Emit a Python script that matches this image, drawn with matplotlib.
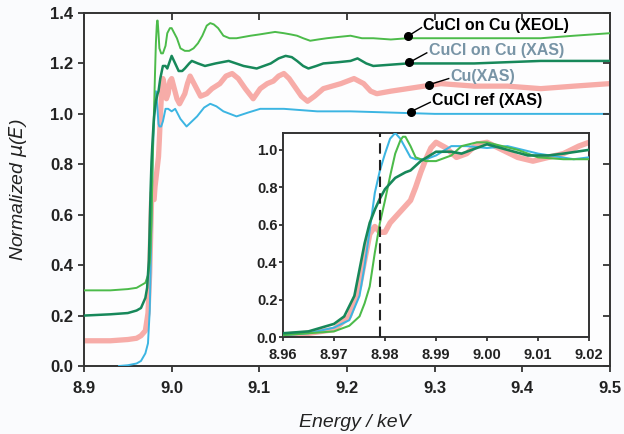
import matplotlib
matplotlib.use("Agg")
from matplotlib import pyplot as plt
import numpy as np

plt.rcParams['font.family'] = ['Liberation Sans', 'DejaVu Sans']

# datos normalizados (sin desplazamiento)
e_xeol = [8.900, 8.930, 8.950, 8.960, 8.965, 8.970, 8.973, 8.975, 8.976, 8.977, 8.978, 8.979,
          8.980, 8.981, 8.982, 8.983, 8.9835, 8.984, 8.985, 8.986, 8.988, 8.990, 8.993, 8.995,
          8.998, 9.000, 9.003, 9.006, 9.010, 9.015, 9.020, 9.025, 9.030, 9.035, 9.040, 9.044,
          9.048, 9.053, 9.059, 9.066, 9.074, 9.082, 9.090, 9.100, 9.109, 9.118, 9.128, 9.136,
          9.143, 9.150, 9.158, 9.167, 9.177, 9.190, 9.204, 9.217, 9.230, 9.250, 9.269, 9.300,
          9.345, 9.380, 9.421, 9.459, 9.500]
mu_xeol = [0.00, 0.00, 0.005, 0.01, 0.02, 0.03, 0.06, 0.11, 0.18, 0.27, 0.45, 0.61,
           0.73, 0.86, 0.98, 1.05, 1.07, 1.07, 1.02, 0.96, 0.94, 0.94, 0.97, 1.02,
           1.04, 1.04, 1.02, 1.00, 0.96, 0.95, 0.95, 0.96, 0.98, 1.01, 1.05, 1.06,
           1.055, 1.04, 1.01, 1.00, 1.00, 1.005, 1.01, 1.015, 1.02, 1.025, 1.02, 1.015,
           1.01, 1.00, 0.99, 0.995, 1.00, 1.005, 1.01, 1.00, 1.00, 0.995, 1.00, 1.00,
           1.00, 1.00, 1.00, 1.01, 1.02]

e_cucl_cu = [8.900, 8.930, 8.950, 8.960, 8.965, 8.970, 8.972, 8.974, 8.975, 8.976, 8.977, 8.978,
             8.979, 8.980, 8.982, 8.984, 8.985, 8.987, 8.990, 8.993, 8.995, 8.998, 9.000, 9.004,
             9.008, 9.012, 9.015, 9.020, 9.023, 9.030, 9.038, 9.050, 9.065, 9.082, 9.097, 9.105,
             9.113, 9.122, 9.130, 9.137, 9.143, 9.150, 9.156, 9.165, 9.173, 9.190, 9.204, 9.212,
             9.222, 9.230, 9.269, 9.345, 9.421, 9.500]
mu_cucl_cu = [0.00, 0.005, 0.01, 0.02, 0.03, 0.07, 0.11, 0.22, 0.36, 0.50, 0.61, 0.68,
              0.74, 0.79, 0.85, 0.88, 0.89, 0.94, 0.99, 0.99, 0.98, 1.01, 1.03, 1.00,
              0.97, 0.97, 0.98, 1.00, 1.01, 1.00, 0.99, 1.00, 1.01, 0.99, 0.98, 0.99,
              1.00, 1.02, 1.03, 1.025, 1.01, 0.99, 0.98, 0.99, 1.00, 1.005, 1.01, 1.02,
              1.00, 0.99, 1.00, 1.00, 1.01, 1.01]

e_cu = [8.900, 8.930, 8.950, 8.960, 8.965, 8.970, 8.973, 8.975, 8.976, 8.977, 8.978, 8.979,
        8.980, 8.981, 8.982, 8.984, 8.985, 8.986, 8.987, 8.988, 8.989, 8.990, 8.992, 8.994,
        8.996, 8.998, 9.000, 9.003, 9.006, 9.009, 9.012, 9.015, 9.018, 9.021, 9.027, 9.033,
        9.040, 9.046, 9.055, 9.062, 9.069, 9.076, 9.084, 9.093, 9.101, 9.109, 9.116, 9.122,
        9.128, 9.134, 9.140, 9.148, 9.155, 9.163, 9.173, 9.183, 9.193, 9.208, 9.219, 9.227,
        9.234, 9.250, 9.269, 9.307, 9.345, 9.383, 9.421, 9.459, 9.500]
mu_cu = [0.00, 0.00, 0.005, 0.01, 0.02, 0.04, 0.11, 0.27, 0.41, 0.55, 0.59, 0.56,
         0.56, 0.61, 0.64, 0.70, 0.73, 0.80, 0.88, 0.95, 1.01, 1.04, 1.01, 0.96,
         0.98, 1.03, 1.04, 1.00, 0.96, 0.94, 0.96, 0.98, 1.02, 1.05, 1.01, 0.97,
         0.98, 1.00, 1.02, 1.05, 1.06, 1.04, 1.00, 0.96, 1.00, 1.02, 1.03, 1.05,
         1.06, 1.04, 1.01, 0.97, 0.95, 0.97, 1.00, 1.01, 1.02, 1.04, 1.02, 0.99,
         0.98, 0.99, 1.00, 1.02, 1.01, 1.01, 1.00, 1.01, 1.02]

e_ref = [8.940, 8.950, 8.960, 8.965, 8.970, 8.973, 8.975, 8.976, 8.977, 8.978, 8.979, 8.980,
         8.981, 8.982, 8.983, 8.984, 8.985, 8.986, 8.988, 8.990, 8.993, 8.996, 9.000, 9.004,
         9.010, 9.017, 9.020, 9.029, 9.037, 9.044, 9.051, 9.059, 9.074, 9.087, 9.101, 9.128,
         9.166, 9.204, 9.300, 9.400, 9.500]
mu_ref = [0.00, 0.003, 0.01, 0.02, 0.05, 0.09, 0.22, 0.38, 0.57, 0.77, 0.89, 0.98,
          1.06, 1.09, 1.06, 1.01, 0.96, 0.95, 0.95, 0.97, 1.02, 1.02, 1.01, 1.02,
          0.98, 0.95, 0.96, 0.99, 1.025, 1.04, 1.03, 1.01, 0.99, 1.005, 1.02, 1.02,
          1.01, 1.01, 1.00, 1.00, 1.00]

etiquetas = ['CuCl on Cu (XEOL)', 'CuCl on Cu (XAS)', 'Cu(XAS)', 'CuCl ref (XAS)']
desplazamientos = [0.3, 0.2, 0.1, 0.0]
colores = ['#4cbb4a', '#17885a', '#f7aca8', '#3cb5e2']
grosores = [1.4, 1.8, 3.8, 1.4]
color_texto = ['black', '#7894a6', '#7894a6', 'black']
# punto sobre la curva y posicion del texto
puntos = [(9.269, 1.307), (9.271, 1.204), (9.293, 1.115), (9.273, 1.009)]
textos = [(9.287, 1.350), (9.293, 1.250), (9.318, 1.148), (9.297, 1.054)]
e_corte = 8.979

energias = [e_xeol, e_cucl_cu, e_cu, e_ref]
mus = [mu_xeol, mu_cucl_cu, mu_cu, mu_ref]
orden = [2, 3, 0, 1]  # rosa abajo, verde oscuro arriba

fig = plt.figure(figsize=(6.24, 4.34), dpi=100, facecolor='#fafbfd')
ax = fig.add_axes([0.1346, 0.1567, 0.843, 0.8133])
ax.set_facecolor('#fdfdfe')

for i in orden:
    ax.plot(energias[i], np.array(mus[i]) + desplazamientos[i], color=colores[i],
            lw=grosores[i], zorder=2 + orden.index(i), solid_joinstyle='round')

for i in range(4):
    ax.plot([puntos[i][0], textos[i][0] - 0.002], [puntos[i][1], textos[i][1] - 0.008],
            color='black', lw=1.0, zorder=7)
    ax.plot(*puntos[i], 'o', color='black', ms=5.5, zorder=8)
    ax.text(textos[i][0], textos[i][1], etiquetas[i], color=color_texto[i], fontsize=11.5,
            fontweight='bold', va='center', ha='left', zorder=9)

ax.set_xlim(8.9, 9.5)
ax.set_ylim(0.0, 1.4)
ticks_x = np.arange(8.9, 9.51, 0.1)
ticks_y = np.arange(0.0, 1.41, 0.2)
ax.set_xticks(ticks_x)
ax.set_yticks(ticks_y)
ax.xaxis.set_major_formatter(plt.FormatStrFormatter('%.1f'))
ax.yaxis.set_major_formatter(plt.FormatStrFormatter('%.1f'))
ax.tick_params(axis='both', direction='out', length=4, width=1.3, labelsize=12,
               colors='#333333', labelcolor='#222222')
ax.tick_params(axis='x', pad=7)
ax.tick_params(axis='y', pad=4)
for t in ax.get_xticklabels() + ax.get_yticklabels():
    t.set_fontweight('bold')
for lado in ['top', 'right', 'bottom', 'left']:
    ax.spines[lado].set_linewidth(1.4)
    ax.spines[lado].set_color('#333333')

# ticks internos arriba y a la derecha (ejes gemelos)
arriba = ax.twiny()
arriba.set_xlim(ax.get_xlim())
arriba.set_xticks(ticks_x)
arriba.tick_params(direction='in', length=5, width=1.3, colors='#333333', labeltop=False)
derecha = ax.twinx()
derecha.set_ylim(ax.get_ylim())
derecha.set_yticks(ticks_y)
derecha.tick_params(direction='in', length=5, width=1.3, colors='#333333', labelright=False)
for eje in [arriba, derecha]:
    for lado in eje.spines:
        eje.spines[lado].set_visible(False)

ax.set_xlabel('Energy / keV', fontsize=14, fontstyle='italic', color='#222222')
ax.set_ylabel(r'Normalized $\mu$($E$)', fontsize=14, fontstyle='italic', color='#222222')
ax.xaxis.set_label_coords(0.515, -0.135)
ax.yaxis.set_label_coords(-0.104, 0.5)

# recuadro con el borde de absorcion
axi = fig.add_axes([0.4535, 0.2235, 0.4905, 0.47])
axi.set_facecolor('white')
axi.set_zorder(5)
for i in orden:
    axi.plot(energias[i], mus[i], color=colores[i], lw=grosores[i] * 1.05,
             zorder=2 + orden.index(i))
axi.axvline(e_corte, color='#222222', lw=1.5, ls=(0, (5, 3)), zorder=8)
axi.set_xlim(8.96, 9.02)
axi.set_ylim(0.0, 1.09)
axi.set_xticks(np.arange(8.96, 9.021, 0.01))
axi.set_yticks(np.arange(0.0, 1.01, 0.2))
axi.xaxis.set_major_formatter(plt.FormatStrFormatter('%.2f'))
axi.yaxis.set_major_formatter(plt.FormatStrFormatter('%.1f'))
axi.tick_params(axis='both', direction='out', length=3, width=1.3, labelsize=10.5,
                colors='#333333', labelcolor='#222222')
axi.tick_params(axis='x', pad=5)
axi.tick_params(axis='y', pad=1)
for t in axi.get_xticklabels() + axi.get_yticklabels():
    t.set_fontweight('bold')
for lado in ['top', 'right', 'bottom', 'left']:
    axi.spines[lado].set_linewidth(1.4)
    axi.spines[lado].set_color('#333333')

plt.savefig('out.png', dpi=100, facecolor=fig.get_facecolor())
